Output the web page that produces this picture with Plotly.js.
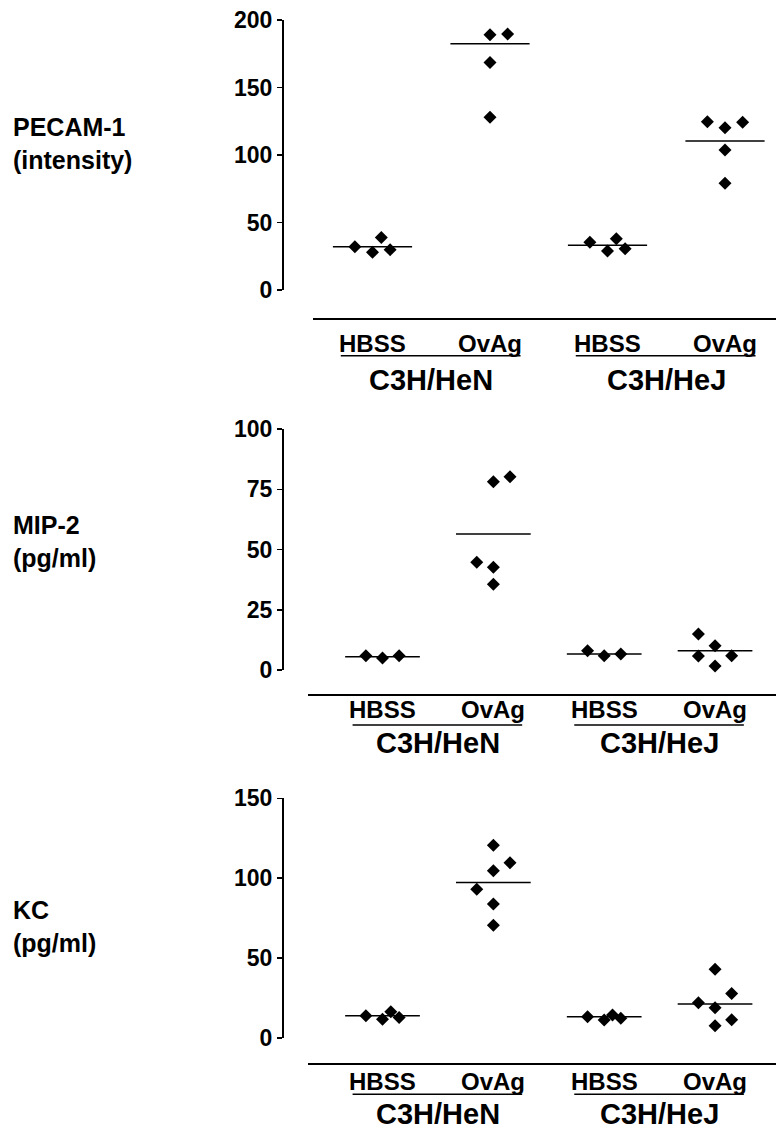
<!DOCTYPE html>
<html>
<head>
<meta charset="utf-8">
<script src="https://cdn.plot.ly/plotly-3.0.1.min.js"></script>
<style>
  html, body { margin: 0; padding: 0; background: #fff; }
  #chart { width: 776px; height: 1135px; }
</style>
</head>
<body>
<div id="chart"></div>
<script>
// ---------- data ----------
const groups = ['HBSS', 'OvAg', 'HBSS', 'OvAg'];
const strains = ['C3H/HeN', 'C3H/HeJ'];
const panelLabels = ['PECAM-1<br>(intensity)', 'MIP-2<br>(pg/ml)', 'KC<br>(pg/ml)'];

const pecamTicks = [0, 50, 100, 150, 200];
const mipTicks = [0, 25, 50, 75, 100];
const kcTicks = [0, 50, 100, 150];

// values per group (HeN HBSS, HeN OvAg, HeJ HBSS, HeJ OvAg)
const pecamValues = [
  [32, 38.8, 27.9, 29.9],
  [189.1, 189.6, 168.6, 127.9],
  [35.3, 38, 28.9, 30.6],
  [124.7, 120.2, 124.2, 103.7, 79]
];
const pecamColumns = [[-2, 1, 0, 2], [0, 2, 0, 0], [-2, 1, 0, 2], [-2, 0, 2, 0, 0]];
const pecamMeans = [32, 182.5, 33.1, 110.4];

const mipValues = [
  [5.9, 5.0, 5.9],
  [78.1, 80.2, 44.7, 42.6, 35.6],
  [8.0, 5.9, 6.6],
  [14.9, 10.1, 5.8, 5.9, 1.7]
];
const mipColumns = [[-2, 0, 2], [0, 2, -2, 0, 0], [-2, 0, 2], [-2, 0, -2, 2, 0]];
const mipMeans = [5.5, 56.4, 6.6, 8.0];

const kcValues = [
  [13.9, 11.7, 16.4, 12.9],
  [120.6, 109.6, 104.6, 93.1, 83.9, 70.6],
  [13.3, 11.25, 14.4, 12.3],
  [43.1, 27.9, 22.1, 18.9, 11.4, 7.7]
];
const kcColumns = [[-2, 0, 1, 2], [0, 2, 0, -2, 0, 0], [-2, 0, 1, 2], [0, 2, -2, 0, 2, 0]];
const kcMeans = [13.9, 97.3, 13.3, 21.25];

// ---------- layout helpers ----------
const W = 776, H = 1135;
const px = v => v / W;
const py = v => 1 - v / H;
const FONT = 'Liberation Sans, Arial, Helvetica, sans-serif';
const bold = (size) => ({ family: FONT, size: size, color: '#000', weight: 'bold' });

const panels = [
  { values: pecamValues, cols: pecamColumns, means: pecamMeans, ticks: pecamTicks, yr: [0, 200],
    yTop: 20, yBot: 290, xLine: 318.3, xStart: 313, xRange: [0.4936, 4.434],
    groupTop: 327.7, underline: 355.7, strainTop: 361.5, labelTop: 111 },
  { values: mipValues, cols: mipColumns, means: mipMeans, ticks: mipTicks, yr: [0, 100],
    yTop: 429, yBot: 670, xLine: 694, xStart: 308.3, xRange: [0.3305, 4.550],
    groupTop: 694.4, underline: 725, strainTop: 725, labelTop: 509.3 },
  { values: kcValues, cols: kcColumns, means: kcMeans, ticks: kcTicks, yr: [0, 150],
    yTop: 798.3, yBot: 1038, xLine: 1063.3, xStart: 308.3, xRange: [0.3305, 4.550],
    groupTop: 1066.1, underline: 1094.3, strainTop: 1096, labelTop: 893.6 }
];

const JIT = 0.075;   // horizontal step of the dot arrangement
const HALF = 0.337;  // half width of the mean bar

const traces = [];
const layout = {
  width: W, height: H,
  margin: { l: 0, r: 0, t: 0, b: 0 },
  paper_bgcolor: '#fff', plot_bgcolor: 'rgba(0,0,0,0)',
  showlegend: false,
  shapes: [], annotations: []
};

panels.forEach((p, i) => {
  const sx = i === 0 ? '' : String(i + 1);
  const xa = 'x' + sx, ya = 'y' + sx;

  p.values.forEach((vals, g) => {
    traces.push({
      type: 'scatter', mode: 'markers', xaxis: xa, yaxis: ya, cliponaxis: false,
      x: vals.map((v, k) => (g + 1) + p.cols[g][k] * JIT),
      y: vals,
      marker: { symbol: 'diamond', size: 10, color: '#000' },
      hoverinfo: 'y'
    });
    traces.push({
      type: 'scatter', mode: 'lines', xaxis: xa, yaxis: ya, cliponaxis: false,
      x: [g + 1 - HALF, g + 1 + HALF],
      y: [p.means[g], p.means[g]],
      line: { color: '#000', width: 1.5 },
      hoverinfo: 'skip'
    });
  });

  layout['xaxis' + sx] = {
    domain: [px(p.xStart), 1], range: p.xRange, anchor: 'free', position: py(p.xLine),
    showline: true, linecolor: '#000', linewidth: 1.5, showgrid: false, zeroline: false,
    showticklabels: false, ticks: '', fixedrange: true
  };
  layout['yaxis' + sx] = {
    domain: [py(p.yBot), py(p.yTop)], range: p.yr, anchor: 'free', position: px(282),
    showline: true, linecolor: '#000', linewidth: 1.5, showgrid: false, zeroline: false,
    tickmode: 'array', tickvals: p.ticks, ticktext: p.ticks.map(String),
    ticks: 'outside', ticklen: 5, tickwidth: 1.5, tickcolor: '#000',
    tickfont: bold(23), fixedrange: true
  };

  // treatment labels under each group
  groups.forEach((gname, g) => {
    layout.annotations.push({
      xref: xa, yref: 'paper', x: g + 1, y: py(p.groupTop),
      xanchor: 'center', yanchor: 'top', showarrow: false,
      text: gname, font: bold(24)
    });
  });

  // strain underlines and labels
  strains.forEach((s, k) => {
    const a = 2 * k + 1, b = 2 * k + 2;
    layout.shapes.push({
      type: 'line', xref: xa, yref: 'paper',
      x0: a - 0.27, x1: b + 0.26, y0: py(p.underline), y1: py(p.underline),
      line: { color: '#000', width: 1.5 }
    });
    layout.annotations.push({
      xref: xa, yref: 'paper', x: (a + b) / 2, y: py(p.strainTop),
      xanchor: 'center', yanchor: 'top', showarrow: false,
      text: s, font: bold(29)
    });
  });

  layout.annotations.push({
    xref: 'paper', yref: 'paper', x: px(11), y: py(p.labelTop),
    xanchor: 'left', yanchor: 'top', align: 'left', showarrow: false,
    text: panelLabels[i], font: bold(25)
  });
});

Plotly.newPlot('chart', traces, layout, { staticPlot: true, displayModeBar: false });
</script>
</body>
</html>
